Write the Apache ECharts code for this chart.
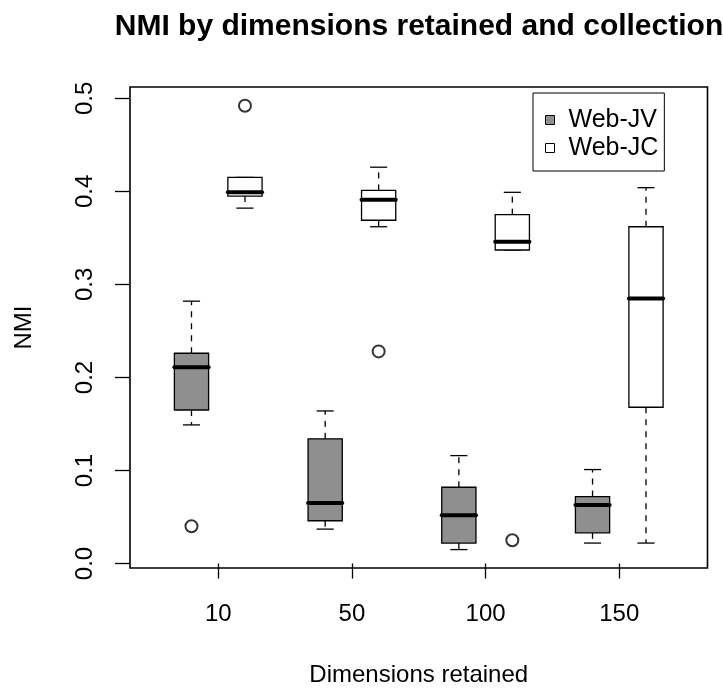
<!DOCTYPE html>
<html>
<head>
<meta charset="utf-8">
<script src="https://cdn.jsdelivr.net/npm/echarts@6/dist/echarts.min.js"></script>
<style>
  html, body { margin: 0; padding: 0; background: #fff; }
  #chart { width: 723px; height: 692px; }
</style>
</head>
<body>
<div id="chart"></div>
<script>
// ---- data ----
const dims = ['10', '50', '100', '150'];
const yTicks = [0.0, 0.1, 0.2, 0.3, 0.4, 0.5];
// [lower whisker, Q1, median, Q3, upper whisker]
const jvStats = [
  [0.149, 0.165, 0.211, 0.226, 0.282],
  [0.037, 0.046, 0.065, 0.134, 0.164],
  [0.015, 0.022, 0.052, 0.082, 0.116],
  [0.022, 0.033, 0.063, 0.072, 0.101]
];
const jcStats = [
  [0.382, 0.395, 0.399, 0.415, 0.415],
  [0.362, 0.369, 0.391, 0.401, 0.426],
  [0.337, 0.337, 0.346, 0.375, 0.399],
  [0.022, 0.168, 0.285, 0.362, 0.404]
];
// [dimension index, value]
const jvOutliers = [[0, 0.040]];
const jcOutliers = [[0, 0.492], [1, 0.228], [2, 0.025]];

// ---- layout constants ----
const OFFSET = 0.2;      // box offset from group centre (axis units)
const BOX_W = 0.256;     // box width (axis units)
const JV_FILL = '#8f8f8f';
const JC_FILL = '#ffffff';

function boxData(stats, off) {
  return stats.map((s, i) => [i + 1 + off].concat(s));
}
function outData(list, off) {
  return list.map(o => [o[0] + 1 + off, o[1]]);
}

function renderBox(params, api) {
  const x = api.value(0);
  const lo = api.coord([x, api.value(1)]);
  const q1 = api.coord([x, api.value(2)]);
  const md = api.coord([x, api.value(3)]);
  const q3 = api.coord([x, api.value(4)]);
  const hi = api.coord([x, api.value(5)]);
  const w = api.size([BOX_W, 0])[0];
  const cx = lo[0];
  const fill = api.visual('color');
  const stroke = { stroke: '#000', lineWidth: 1.3 };
  const dash = { stroke: '#000', lineWidth: 1.3, lineDash: [6, 6] };
  return {
    type: 'group',
    children: [
      { type: 'line', shape: { x1: cx, y1: q3[1], x2: cx, y2: hi[1] }, style: dash },
      { type: 'line', shape: { x1: cx, y1: q1[1], x2: cx, y2: lo[1] }, style: dash },
      { type: 'line', shape: { x1: cx - w / 4, y1: hi[1], x2: cx + w / 4, y2: hi[1] }, style: stroke },
      { type: 'line', shape: { x1: cx - w / 4, y1: lo[1], x2: cx + w / 4, y2: lo[1] }, style: stroke },
      { type: 'rect', shape: { x: cx - w / 2, y: q3[1], width: w, height: q1[1] - q3[1] },
        style: { fill: fill, stroke: '#000', lineWidth: 1.3 } },
      { type: 'line', shape: { x1: cx - w / 2, y1: md[1], x2: cx + w / 2, y2: md[1] },
        style: { stroke: '#000', lineWidth: 4, lineCap: 'round' } }
    ]
  };
}

const chart = echarts.init(document.getElementById('chart'), null, { renderer: 'canvas' });
const FONT = 'Liberation Sans, Arial, Helvetica, sans-serif';

chart.setOption({
  backgroundColor: '#fff',
  animation: false,
  title: {
    text: 'NMI by dimensions retained and collection',
    left: 414,
    top: 7,
    textAlign: 'center',
    textStyle: { fontFamily: FONT, fontSize: 30, fontWeight: 'bold', color: '#000' }
  },
  legend: {
    orient: 'vertical',
    left: 533,
    top: 93,
    padding: [13, 6, 9, 12],
    itemWidth: 9,
    itemHeight: 9,
    itemGap: 0,
    icon: 'rect',
    selectedMode: false,
    borderColor: '#000',
    borderWidth: 1,
    textStyle: { fontFamily: FONT, fontSize: 25, color: '#000', lineHeight: 28, padding: [0, 0, 0, 9] },
    data: [
      { name: 'Web-JV', itemStyle: { color: JV_FILL, borderColor: '#000', borderWidth: 1 } },
      { name: 'Web-JC', itemStyle: { color: JC_FILL, borderColor: '#000', borderWidth: 1 } }
    ]
  },
  grid: {
    left: 130, right: 15.5, top: 87, bottom: 119.3,
    show: true, borderColor: '#000', borderWidth: 1.6, backgroundColor: 'transparent'
  },
  xAxis: {
    type: 'value',
    min: 0.34, max: 4.66,
    splitLine: { show: false },
    axisLine: { show: false },
    axisTick: { show: true, length: 15, customValues: [1, 2, 3, 4], lineStyle: { color: '#000', width: 1.3 } },
    axisLabel: {
      customValues: [1, 2, 3, 4],
      formatter: v => dims[Math.round(v) - 1],
      fontFamily: FONT, fontSize: 24, color: '#000', margin: 34
    },
    name: 'Dimensions retained',
    nameLocation: 'middle',
    nameGap: 95,
    nameTextStyle: { fontFamily: FONT, fontSize: 24, color: '#000' }
  },
  yAxis: {
    type: 'value',
    min: -0.0048, max: 0.5122,
    splitLine: { show: false },
    axisLine: { show: false },
    axisTick: { show: true, length: 15, customValues: yTicks, lineStyle: { color: '#000', width: 1.3 } },
    axisLabel: {
      customValues: yTicks,
      formatter: v => v.toFixed(1),
      rotate: 90,
      fontFamily: FONT, fontSize: 24, color: '#000', margin: 33
    },
    name: 'NMI',
    nameLocation: 'middle',
    nameRotate: 90,
    nameGap: 94,
    nameTextStyle: { fontFamily: FONT, fontSize: 24, color: '#000' }
  },
  series: [
    {
      name: 'Web-JV', type: 'custom', renderItem: renderBox,
      itemStyle: { color: JV_FILL, borderColor: '#000', borderWidth: 1 },
      encode: { x: 0, y: [1, 2, 3, 4, 5] },
      data: boxData(jvStats, -OFFSET)
    },
    {
      name: 'Web-JC', type: 'custom', renderItem: renderBox,
      itemStyle: { color: JC_FILL, borderColor: '#000', borderWidth: 1 },
      encode: { x: 0, y: [1, 2, 3, 4, 5] },
      data: boxData(jcStats, OFFSET)
    },
    {
      name: 'JV outliers', type: 'scatter', symbol: 'emptyCircle', symbolSize: 12,
      itemStyle: { color: '#000', borderWidth: 1.2 },
      data: outData(jvOutliers, -OFFSET)
    },
    {
      name: 'JC outliers', type: 'scatter', symbol: 'emptyCircle', symbolSize: 12,
      itemStyle: { color: '#000', borderWidth: 1.2 },
      data: outData(jcOutliers, OFFSET)
    }
  ]
});
</script>
</body>
</html>
